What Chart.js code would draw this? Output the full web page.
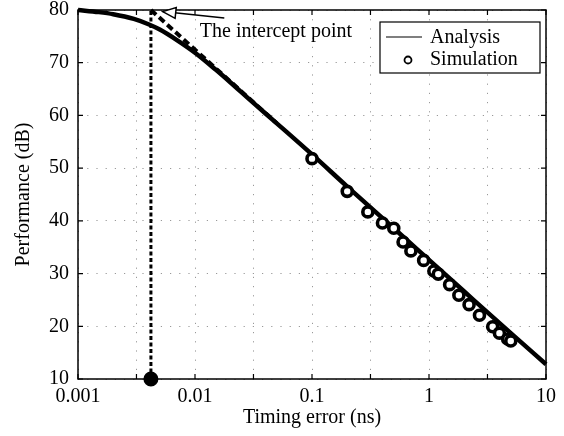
<!DOCTYPE html>
<html>
<head>
<meta charset="utf-8">
<script src="https://cdn.jsdelivr.net/npm/chart.js@4.4.1/dist/chart.umd.min.js"></script>
<style>
  html, body { margin: 0; padding: 0; background: #fff; }
  #wrap { width: 564px; height: 436px; }
</style>
</head>
<body>
<div id="wrap"><canvas id="perf-chart"></canvas></div>
<script>
// data
const analysisX = [0.001, 0.0015, 0.002, 0.003, 0.004, 0.005, 0.007, 0.01, 0.015, 0.02, 0.03, 0.05, 0.1, 0.2, 0.5, 1, 2, 5, 10];
const analysisY = [80, 79.6, 79.2, 78.3, 77.3, 76.3, 74.3, 71.9, 68.7, 66.3, 62.8, 58.5, 52.6, 46.5, 38.6, 32.6, 26.6, 18.7, 12.8];

const simX = [0.1, 0.2, 0.3, 0.4, 0.5, 0.6, 0.7, 0.9, 1.1, 1.2, 1.5, 1.8, 2.2, 2.7, 3.5, 4, 4.7, 5];
const simY = [51.8, 45.6, 41.7, 39.6, 38.6, 36.0, 34.3, 32.5, 30.5, 29.9, 27.9, 25.9, 24.1, 22.1, 19.9, 18.7, 17.6, 17.2];

// asymptote of the -20 dB/decade part up to the 80 dB floor
const asymptoteX = [0.0042, 0.05];
const asymptoteY = [80, 58.5];

const interceptX = 0.0042;
const interceptLineY = [10, 80];

const xTickValues = [0.001, 0.00316, 0.01, 0.0316, 0.1, 0.316, 1, 3.16, 10];
const yTickValues = [10, 20, 30, 40, 50, 60, 70, 80];

const seriesNames = ['Analysis', 'Simulation'];
const noteText = 'The intercept point';

const FONT = "'Liberation Serif', 'Times New Roman', serif";

function pts(xs, ys) {
  return xs.map((x, i) => ({ x: x, y: ys[i] }));
}

// frame, inward ticks, legend and the arrow note
const decorPlugin = {
  id: 'decor',
  afterDraw(chart) {
    const ctx = chart.ctx;
    const a = chart.chartArea;
    const xs = chart.scales.x;
    const ys = chart.scales.y;
    ctx.save();
    ctx.strokeStyle = '#000';
    ctx.lineWidth = 1.5;
    ctx.strokeRect(a.left, a.top, a.right - a.left, a.bottom - a.top);

    ctx.lineWidth = 1.2;
    ctx.beginPath();
    xTickValues.forEach(v => {
      const px = xs.getPixelForValue(v);
      ctx.moveTo(px, a.bottom); ctx.lineTo(px, a.bottom - 5);
      ctx.moveTo(px, a.top); ctx.lineTo(px, a.top + 5);
    });
    yTickValues.forEach(v => {
      const py = ys.getPixelForValue(v);
      ctx.moveTo(a.left, py); ctx.lineTo(a.left + 5, py);
      ctx.moveTo(a.right, py); ctx.lineTo(a.right - 5, py);
    });
    ctx.stroke();

    // legend box
    const bx = a.right - 166, by = a.top + 12, bw = 160, bh = 51;
    ctx.fillStyle = '#fff';
    ctx.fillRect(bx, by, bw, bh);
    ctx.lineWidth = 1.2;
    ctx.strokeRect(bx, by, bw, bh);
    ctx.beginPath();
    ctx.moveTo(bx + 6, by + 15); ctx.lineTo(bx + 42, by + 15);
    ctx.stroke();
    ctx.lineWidth = 1.8;
    ctx.beginPath();
    ctx.arc(bx + 28, by + 38, 3.5, 0, Math.PI * 2);
    ctx.stroke();
    ctx.fillStyle = '#000';
    ctx.font = '20px ' + FONT;
    ctx.textBaseline = 'alphabetic';
    ctx.textAlign = 'left';
    ctx.fillText(seriesNames[0], bx + 50, by + 21);
    ctx.fillText(seriesNames[1], bx + 50, by + 43);

    // note with arrow pointing at the intercept
    const tx = xs.getPixelForValue(0.011), tyy = ys.getPixelForValue(74.9);
    ctx.fillText(noteText, tx, tyy);
    const x0 = xs.getPixelForValue(0.0178), y0 = ys.getPixelForValue(78.5);
    const x1 = xs.getPixelForValue(0.0053), y1 = ys.getPixelForValue(79.7);
    ctx.lineWidth = 1.5;
    ctx.beginPath();
    ctx.moveTo(x0, y0); ctx.lineTo(x1, y1);
    ctx.stroke();
    const ang = Math.atan2(y1 - y0, x1 - x0);
    const L = 13, W = 5.5;
    const bxp = x1 - L * Math.cos(ang), byp = y1 - L * Math.sin(ang);
    ctx.beginPath();
    ctx.moveTo(x1, y1);
    ctx.lineTo(bxp + W * Math.sin(ang), byp - W * Math.cos(ang));
    ctx.lineTo(bxp - W * Math.sin(ang), byp + W * Math.cos(ang));
    ctx.closePath();
    ctx.fillStyle = '#fff';
    ctx.fill();
    ctx.stroke();
    ctx.restore();
  }
};

const ctx = document.getElementById('perf-chart').getContext('2d');
new Chart(ctx, {
  type: 'scatter',
  data: {
    datasets: [
      {
        label: seriesNames[1],
        data: pts(simX, simY),
        showLine: false,
        pointStyle: 'circle',
        pointRadius: 5,
        pointBorderWidth: 3.6,
        pointBorderColor: '#000',
        pointBackgroundColor: '#fff',
        order: 0,
        clip: false,
      },
      {
        label: seriesNames[0],
        data: pts(analysisX, analysisY),
        showLine: true,
        borderColor: '#000',
        borderWidth: 4.5,
        pointRadius: 0,
        cubicInterpolationMode: 'monotone',
        order: 1,
        clip: false,
      },
      {
        label: 'asymptote',
        data: pts(asymptoteX, asymptoteY),
        showLine: true,
        borderColor: '#000',
        borderWidth: 4,
        borderDash: [7, 4],
        pointRadius: 0,
        order: 2,
        clip: false,
      },
      {
        label: 'intercept',
        data: pts([interceptX, interceptX], interceptLineY),
        showLine: true,
        borderColor: '#000',
        borderWidth: 3,
        borderDash: [4, 2.5],
        pointRadius: [6, 0],
        pointBackgroundColor: '#000',
        pointBorderColor: '#000',
        order: 3,
        clip: false,
      },
    ],
  },
  options: {
    responsive: true,
    maintainAspectRatio: false,
    animation: false,
    layout: { padding: { top: 10, right: 18, left: 0, bottom: 0 } },
    plugins: {
      legend: { display: false },
      tooltip: { enabled: false },
    },
    scales: {
      x: {
        type: 'logarithmic',
        min: 0.001,
        max: 10,
        afterBuildTicks: scale => {
          scale.ticks = xTickValues.map(v => ({ value: v }));
        },
        afterFit: scale => { scale.height = 57; },
        ticks: {
          autoSkip: false,
          maxRotation: 0,
          padding: 8,
          color: '#000',
          font: { family: FONT, size: 20, lineHeight: 1 },
          callback: v => {
            const l = Math.log10(v);
            return Math.abs(l - Math.round(l)) < 1e-6 ? String(v) : '';
          },
        },
        grid: {
          color: '#999',
          lineWidth: 1,
          drawTicks: false,
        },
        border: { display: false, dash: [1.2, 8] },
        title: {
          display: true,
          text: 'Timing error (ns)',
          color: '#000',
          font: { family: FONT, size: 20, lineHeight: 1.2 },
          padding: { top: 0, bottom: 6 },
        },
      },
      y: {
        min: 10,
        max: 80,
        afterBuildTicks: scale => {
          scale.ticks = yTickValues.map(v => ({ value: v }));
        },
        afterFit: scale => {
          scale.width = 78;
          scale.paddingTop = 0;
          scale.paddingBottom = 0;
        },
        ticks: {
          padding: 9,
          color: '#000',
          font: { family: FONT, size: 20, lineHeight: 1 },
        },
        grid: {
          color: '#999',
          lineWidth: 1,
          drawTicks: false,
        },
        border: { display: false, dash: [1.2, 8] },
        title: {
          display: true,
          text: 'Performance (dB)',
          color: '#000',
          font: { family: FONT, size: 20, lineHeight: 1.2 },
          padding: { top: 12, bottom: 0 },
        },
      },
    },
  },
  plugins: [decorPlugin],
});
</script>
</body>
</html>
